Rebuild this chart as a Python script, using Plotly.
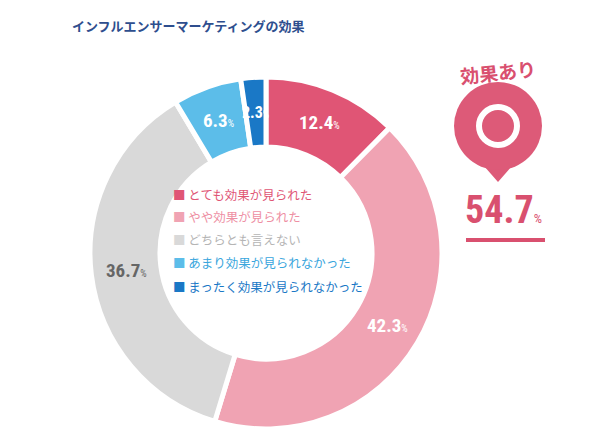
import math
import plotly.graph_objects as go

labels = ['とても効果が見られた', 'やや効果が見られた', 'どちらとも言えない',
          'あまり効果が見られなかった', 'まったく効果が見られなかった']
values = [12.4, 42.3, 36.7, 6.3, 2.3]
colors = ['#e05575', '#f0a3b3', '#d9d9d9', '#5cbde9', '#1a78c6']
label_colors = ['#e05575', '#ee8fa3', '#b5b5b5', '#3aa6dd', '#1a78c6']
pct_colors = ['white', 'white', '#666666', 'white', 'white']
effect_total = 54.7

W, H = 600, 447
px = lambda x: x / W
py = lambda y: 1 - y / H

cx, cy, r_out, r_in = 258, 245, 176, 106

fig = go.Figure(go.Pie(
    labels=labels, values=values, sort=False, direction='clockwise', rotation=0,
    hole=r_in / r_out, marker=dict(colors=colors, line=dict(color='white', width=5)),
    textinfo='none', showlegend=False,
    domain=dict(x=[px(cx - r_out), px(cx + r_out)], y=[py(cy + r_out), py(cy - r_out)]),
))

ann = []
# percentage labels on the ring, placed from the data angles
cum = 0
r_mid = (r_out + r_in) / 2
for v, c in zip(values, pct_colors):
    a = math.radians(90 - (cum + v / 2) / 100 * 360)
    cum += v
    x = cx + r_mid * math.cos(a)
    y = cy - r_mid * math.sin(a)
    ann.append(dict(x=px(x), y=py(y), text=f"<b>{v}</b><span style='font-size:10px'>%</span>",
                    font=dict(size=19 if v > 3 else 16, color=c,
                              family='Roboto Condensed, Liberation Sans Narrow, Roboto')))

# legend inside the hole
for i, (lab, c) in enumerate(zip(labels, label_colors)):
    ann.append(dict(x=px(163), y=py(186 + i * 23), xanchor='left',
                    text=f"<span style='color:{colors[i]}'>■</span> {lab}",
                    font=dict(size=12.5, color=c, family='Noto Sans CJK JP')))

ann += [
    dict(x=px(62), y=py(17), xanchor='left',
         text='<b>インフルエンサーマーケティングの効果</b>',
         font=dict(size=13, color='#2e4e8e', family='Noto Sans CJK JP')),
    dict(x=px(490), y=py(64), textangle=-6,
         text='<b>効果あり</b>', font=dict(size=19, color='#d9506f', family='Noto Sans CJK JP')),
    dict(x=px(495), y=py(202),
         text=f"<b>{effect_total}</b><span style='font-size:13px'>%</span>",
         font=dict(size=38, color='#d9506f', family='Roboto Condensed, Liberation Sans Narrow, Roboto')),
]
for a_ in ann:
    a_.update(xref='paper', yref='paper', showarrow=False, yanchor='middle')
    a_.setdefault('xanchor', 'center')

pc, pr = (490, 118), 44
shapes = [
    dict(type='path', xref='paper', yref='paper', fillcolor='#dd5a78', line=dict(width=0),
         path=f"M {px(pc[0]-14)},{py(pc[1]+40)} L {px(pc[0])},{py(pc[1]+56)} L {px(pc[0]+14)},{py(pc[1]+40)} Z"),
    dict(type='circle', xref='paper', yref='paper', fillcolor='#dd5a78', line=dict(width=0),
         x0=px(pc[0]-pr), x1=px(pc[0]+pr), y0=py(pc[1]+pr), y1=py(pc[1]-pr)),
    dict(type='circle', xref='paper', yref='paper', fillcolor='rgba(0,0,0,0)',
         line=dict(color='white', width=6),
         x0=px(pc[0]-19), x1=px(pc[0]+19), y0=py(pc[1]+19), y1=py(pc[1]-19)),
    dict(type='line', xref='paper', yref='paper', line=dict(color='#d9506f', width=4),
         x0=px(458), x1=px(537), y0=py(232), y1=py(232)),
]

fig.update_layout(width=W, height=H, margin=dict(l=0, r=0, t=0, b=0),
                  paper_bgcolor='white', plot_bgcolor='white',
                  annotations=ann, shapes=shapes)
fig.write_html("out.html")
